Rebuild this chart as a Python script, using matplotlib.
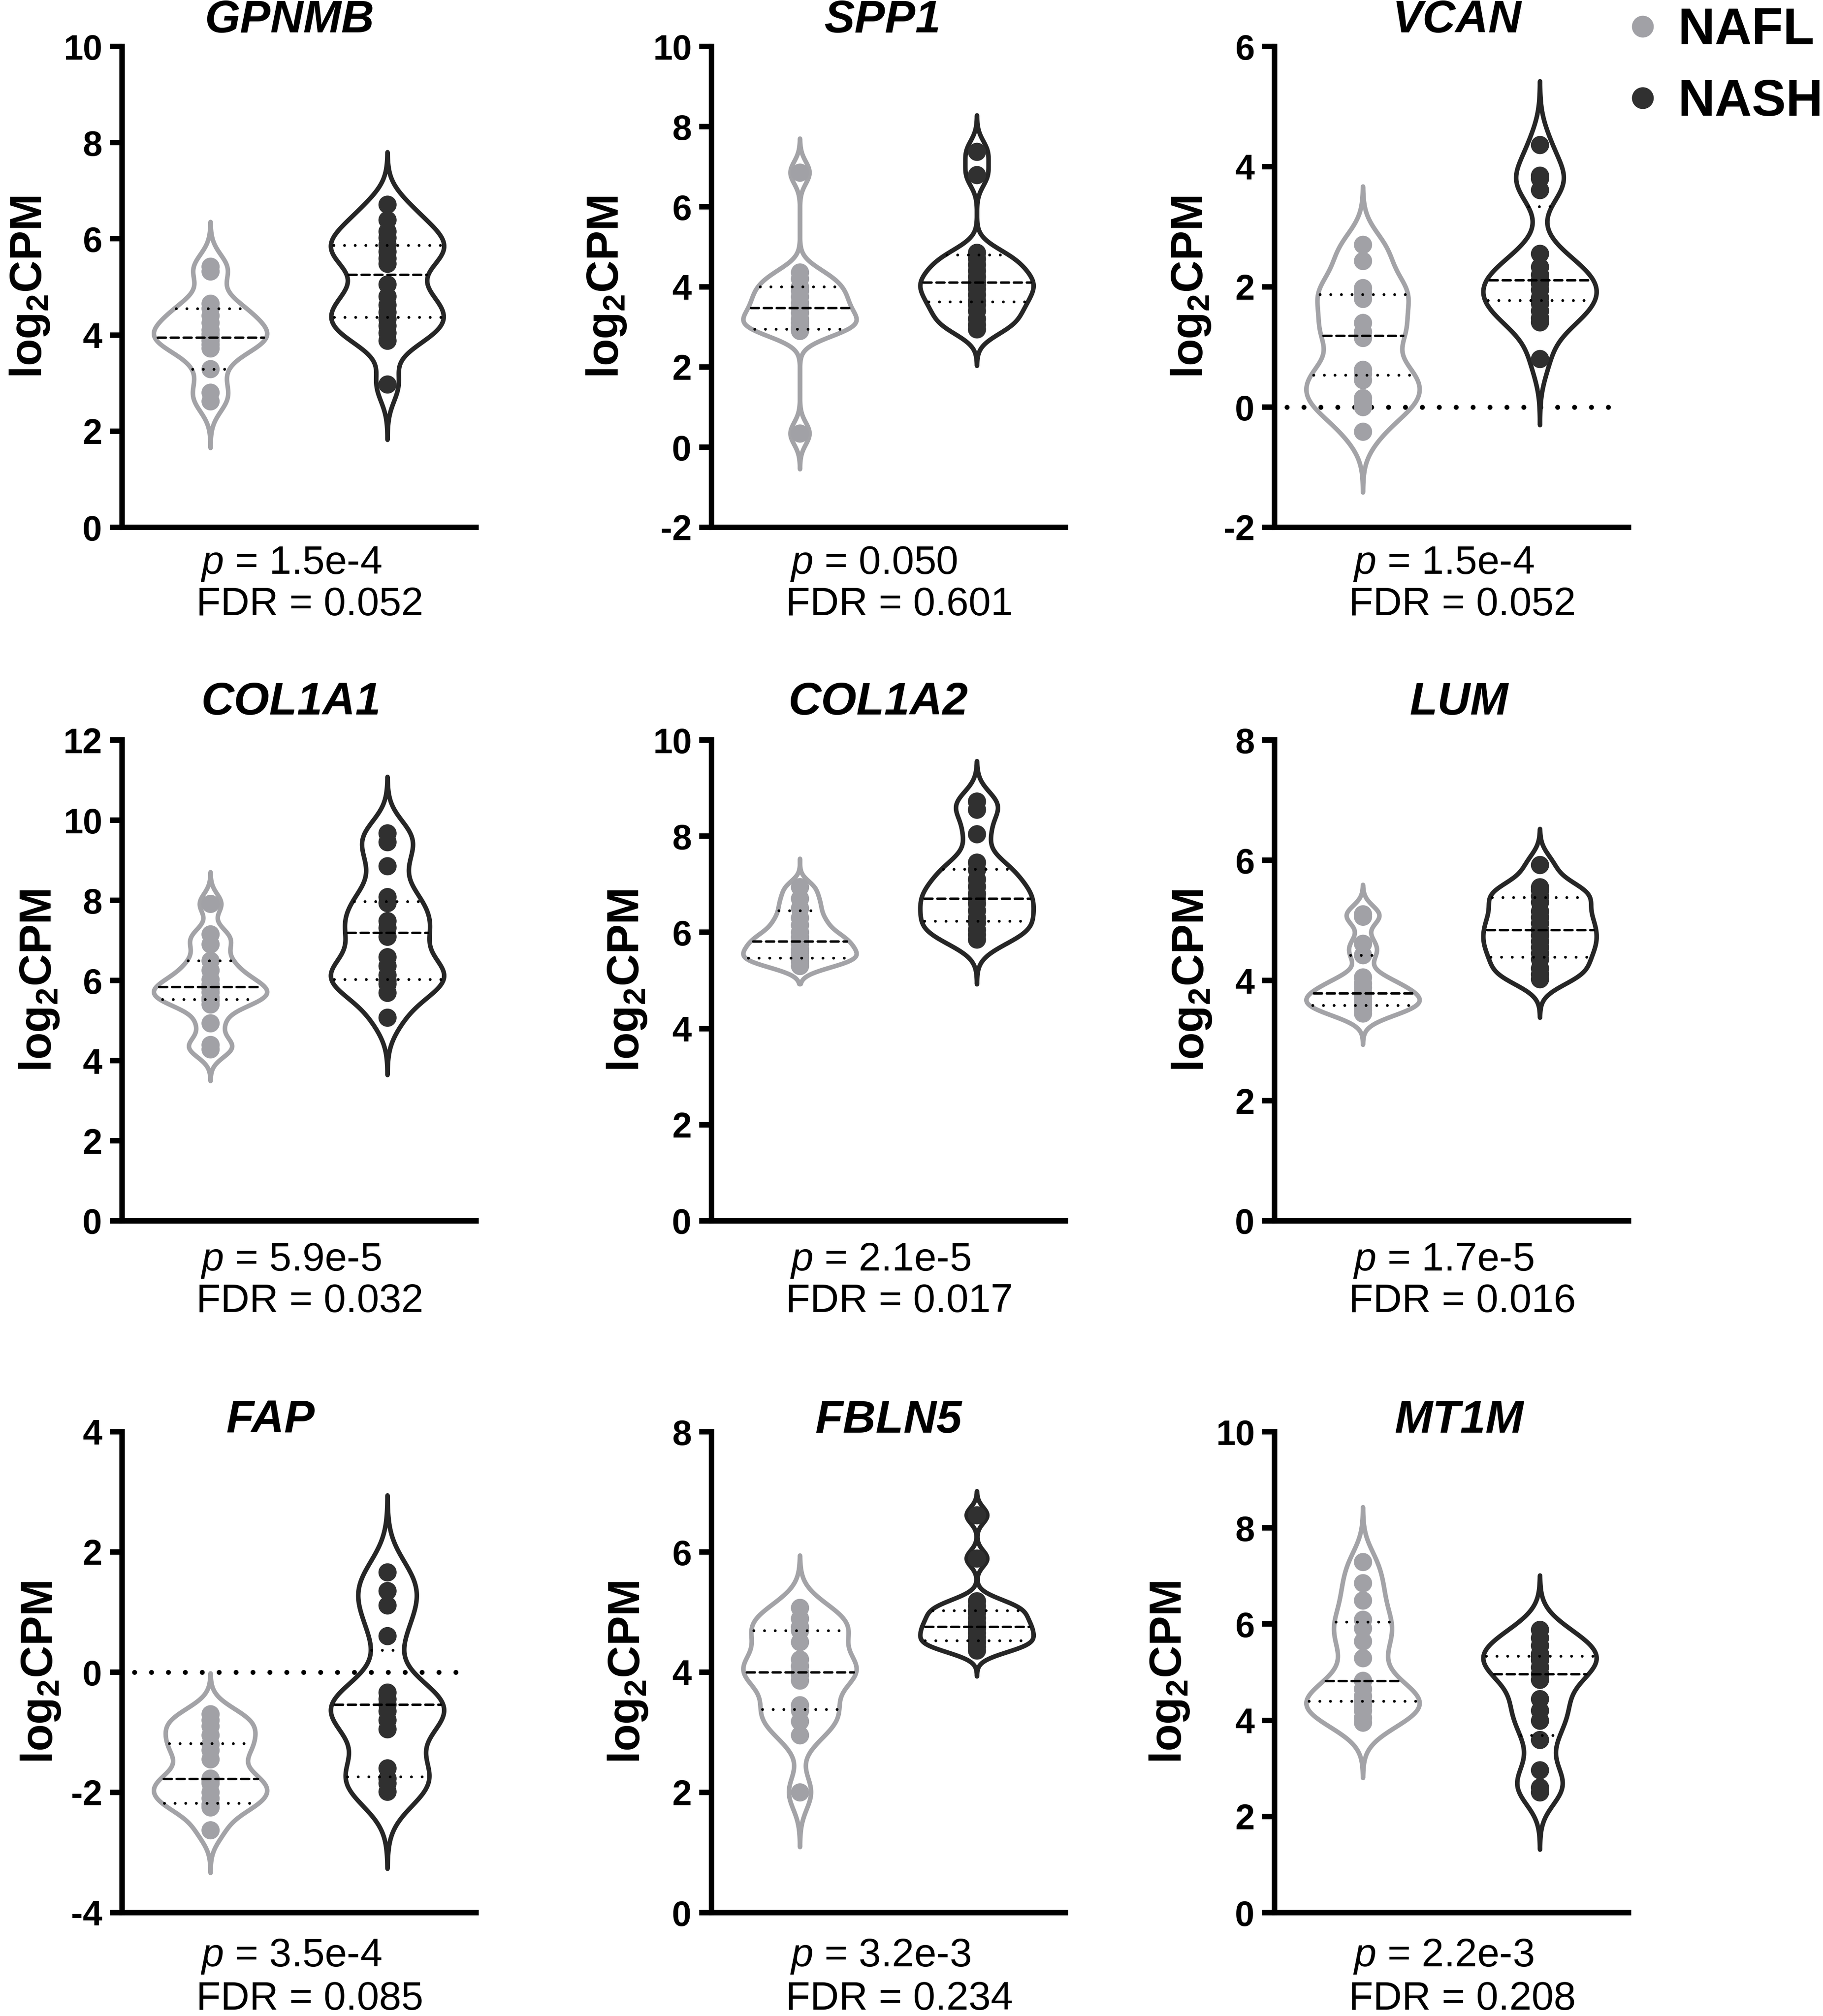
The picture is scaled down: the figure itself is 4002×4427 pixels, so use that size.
import numpy as np
import matplotlib
matplotlib.use("Agg")
import matplotlib.pyplot as plt
from matplotlib.lines import Line2D

plt.rcParams['font.family'] = ['Liberation Sans', 'DejaVu Sans']
plt.rcParams['mathtext.fontset'] = 'custom'
plt.rcParams['mathtext.rm'] = 'Liberation Sans'
plt.rcParams['mathtext.it'] = 'Liberation Sans:italic'
plt.rcParams['mathtext.bf'] = 'Liberation Sans:bold'
plt.rcParams['lines.scale_dashes'] = False
plt.rcParams['axes.unicode_minus'] = False

# ---------------- data (log2CPM) ----------------
genes = ['GPNMB', 'SPP1', 'VCAN', 'COL1A1', 'COL1A2', 'LUM', 'FAP', 'FBLN5', 'MT1M']
groups = ['NAFL', 'NASH']

nafl_GPNMB = [2.62, 2.80, 3.29, 3.72, 3.80, 3.88, 3.95, 4.02, 4.10, 4.25, 4.40, 4.55, 4.65, 5.32, 5.42]
nash_GPNMB = [2.97, 3.88, 4.04, 4.19, 4.33, 4.47, 4.62, 4.80, 5.05, 5.48, 5.59, 5.73, 5.87, 6.02, 6.15, 6.39, 6.71]
nafl_SPP1 = [0.34, 2.90, 2.95, 3.00, 3.10, 3.20, 3.35, 3.48, 3.60, 3.75, 3.90, 4.00, 4.20, 4.36, 6.85]
nash_SPP1 = [2.94, 3.05, 3.20, 3.40, 3.55, 3.65, 3.80, 3.95, 4.05, 4.12, 4.25, 4.40, 4.55, 4.70, 4.85, 6.79, 7.37]
nafl_VCAN = [-0.41, 0.00, 0.08, 0.15, 0.45, 0.55, 0.62, 1.15, 1.25, 1.40, 1.80, 1.90, 1.98, 2.43, 2.70]
nash_VCAN = [0.80, 1.41, 1.48, 1.60, 1.72, 1.82, 1.95, 2.05, 2.11, 2.20, 2.33, 2.55, 3.61, 3.80, 3.85, 4.36]
nafl_COL1A1 = [4.28, 4.39, 4.93, 5.40, 5.50, 5.57, 5.70, 5.80, 5.90, 6.02, 6.25, 6.49, 6.90, 7.15, 7.91]
nash_COL1A1 = [5.07, 5.69, 5.91, 6.00, 6.13, 6.36, 6.58, 7.09, 7.31, 7.48, 7.93, 8.08, 8.85, 9.45, 9.67]
nafl_COL1A2 = [5.30, 5.38, 5.45, 5.50, 5.58, 5.65, 5.75, 5.81, 5.90, 6.00, 6.15, 6.30, 6.50, 6.70, 6.94]
nash_COL1A2 = [5.85, 5.95, 6.05, 6.20, 6.30, 6.45, 6.60, 6.70, 6.80, 6.95, 7.10, 7.30, 7.45, 8.04, 8.55, 8.72]
nafl_LUM = [3.45, 3.50, 3.55, 3.60, 3.65, 3.70, 3.75, 3.80, 3.88, 3.95, 4.05, 4.42, 4.61, 5.06, 5.10]
nash_LUM = [4.02, 4.10, 4.20, 4.35, 4.45, 4.55, 4.65, 4.75, 4.84, 4.95, 5.05, 5.15, 5.30, 5.40, 5.50, 5.55, 5.92]
nafl_FAP = [-2.63, -2.25, -2.20, -2.10, -2.00, -1.85, -1.80, -1.77, -1.45, -1.30, -1.20, -1.05, -0.90, -0.80, -0.70]
nash_FAP = [-1.99, -1.85, -1.77, -1.60, -0.95, -0.80, -0.65, -0.54, -0.45, -0.34, 0.60, 1.11, 1.35, 1.66]
nafl_FBLN5 = [2.00, 2.95, 3.18, 3.36, 3.45, 3.86, 3.95, 4.00, 4.10, 4.21, 4.50, 4.69, 4.75, 4.89, 5.07]
nash_FBLN5 = [4.36, 4.42, 4.48, 4.52, 4.58, 4.65, 4.72, 4.76, 4.82, 4.90, 4.98, 5.02, 5.10, 5.18, 5.89, 6.61]
nafl_MT1M = [3.95, 4.05, 4.20, 4.30, 4.39, 4.50, 4.65, 4.82, 5.29, 5.64, 5.91, 6.09, 6.49, 6.85, 7.29]
nash_MT1M = [2.50, 2.60, 2.96, 3.59, 3.99, 4.20, 4.44, 4.84, 4.96, 5.10, 5.25, 5.33, 5.38, 5.55, 5.71, 5.88]

# quartile lines (Q1, median, Q3) as drawn in the figure
quart_nafl = [(3.29, 3.95, 4.55), (2.94, 3.48, 4.00), (0.53, 1.19, 1.87),
              (5.52, 5.84, 6.49), (5.46, 5.81, 6.45), (3.58, 3.79, 4.42),
              (-2.18, -1.77, -1.19), (3.38, 4.00, 4.69), (4.39, 4.82, 6.04)]
quart_nash = [(4.37, 5.26, 5.86), (3.62, 4.11, 4.80), (1.77, 2.11, 3.33),
              (6.02, 7.19, 7.97), (6.23, 6.70, 7.31), (4.39, 4.84, 5.38),
              (-1.74, -0.54, 0.36), (4.52, 4.76, 5.02), (3.68, 4.96, 5.33)]
# violin extent (low tip, high tip)
tips_nafl = [(1.65, 6.35), (-0.55, 7.70), (-1.42, 3.67), (3.49, 8.70), (4.92, 7.53),
             (2.93, 5.59), (-3.34, -0.02), (1.09, 5.94), (2.80, 8.43)]
tips_nash = [(1.82, 7.80), (2.03, 8.28), (-0.30, 5.42), (3.64, 11.08), (4.92, 9.56),
             (3.38, 6.52), (-3.27, 2.94), (3.93, 7.01), (1.31, 7.01)]

p_text = ['1.5e-4', '0.050', '1.5e-4', '5.9e-5', '2.1e-5', '1.7e-5', '3.5e-4', '3.2e-3', '2.2e-3']
fdr_text = ['0.052', '0.601', '0.052', '0.032', '0.017', '0.016', '0.085', '0.234', '0.208']
ylims = [(0, 10), (-2, 10), (-2, 6), (0, 12), (0, 10), (0, 8), (-4, 4), (0, 8), (0, 10)]
zero_line = [False, False, True, False, False, False, True, False, False]

data = {
    'GPNMB': (nafl_GPNMB, nash_GPNMB), 'SPP1': (nafl_SPP1, nash_SPP1),
    'VCAN': (nafl_VCAN, nash_VCAN), 'COL1A1': (nafl_COL1A1, nash_COL1A1),
    'COL1A2': (nafl_COL1A2, nash_COL1A2), 'LUM': (nafl_LUM, nash_LUM),
    'FAP': (nafl_FAP, nash_FAP), 'FBLN5': (nafl_FBLN5, nash_FBLN5),
    'MT1M': (nafl_MT1M, nash_MT1M),
}

# ---------------- styling / layout ----------------
W, H = 4002, 4427
DPI = 300
dot_colors = ['#a1a1a6', '#303030']
edge_colors = ['#a3a3a7', '#262626']
positions = [0.5, 1.5]
VW = 0.64  # full violin width (data units)

col_left = [268, 1562, 2798]
col_w = 777
row_top = [102, 1625, 3144]
row_h = 1056
title_y_px = [45, 1543, 3120]
title_xfrac = [0.472, 0.483, 0.515, 0.477, 0.470, 0.521, 0.419, 0.500, 0.521]
ylabel_x = [-0.200, -0.235, -0.175, -0.172, -0.178, -0.172, -0.168, -0.175, -0.235]
ptext_dy = [80, 87, 97]
fdr_dy = [170, 178, 191]


def kde_profile(values, lo, hi, n=500):
    d = np.asarray(values, dtype=float)
    h = ((d.min() - lo) + (hi - d.max())) / 6.3
    y = np.linspace(lo, hi, n)
    dens = np.exp(-0.5 * ((y[:, None] - d[None, :]) / h) ** 2).sum(axis=1)
    dens[0] = 0.0
    dens[-1] = 0.0
    return y, dens


fig = plt.figure(figsize=(W / DPI, H / DPI), dpi=DPI)

for i, gene in enumerate(genes):
    r, c = divmod(i, 3)
    left = col_left[c] / W
    bottom = 1 - (row_top[r] + row_h) / H
    ax = fig.add_axes([left, bottom, col_w / W, row_h / H])

    groups_data = data[gene]
    quarts = [quart_nafl[i], quart_nash[i]]
    tips = [tips_nafl[i], tips_nash[i]]

    if zero_line[i]:
        ax.axhline(0, xmin=0.035, xmax=0.985, color='black', lw=2.6,
                   linestyle=(0, (0.01, 8.9)), dash_capstyle='round', zorder=0.5)

    for g in range(2):
        vals = groups_data[g]
        y, dens = kde_profile(vals, *tips[g])
        stats = [dict(coords=y, vals=dens, mean=np.mean(vals), median=quarts[g][1],
                      min=tips[g][0], max=tips[g][1])]
        vp = ax.violin(stats, positions=[positions[g]], widths=VW,
                       showmeans=False, showextrema=False, showmedians=False)
        for b in vp['bodies']:
            b.set_facecolor('none')
            b.set_edgecolor(edge_colors[g])
            b.set_linewidth(2.4)
            b.set_alpha(1)
            b.set_joinstyle('round')
            b.set_zorder(1)

        ax.scatter(np.full(len(vals), positions[g]), vals, s=92, color=dot_colors[g],
                   edgecolors='none', zorder=3)

        for k, qv in enumerate(quarts[g]):
            hw = 0.5 * VW * np.interp(qv, y, dens) / dens.max() * 0.95
            if k == 1:
                ls = (0, (4.2, 2.6))
                lw = 1.3
            else:
                ls = (0, (0.01, 5.6))
                lw = 1.5
            ax.hlines(qv, positions[g] - hw, positions[g] + hw, colors='black',
                      linewidth=lw, linestyles=[ls], capstyle='round', zorder=4)

    lo, hi = ylims[i]
    ax.set_ylim(lo, hi)
    ax.set_xlim(0, 2)
    ax.set_yticks(np.arange(lo, hi + 0.1, 2))
    ax.set_yticklabels([str(int(t)) for t in np.arange(lo, hi + 0.1, 2)])
    ax.set_xticks([])
    for s in ['top', 'right']:
        ax.spines[s].set_visible(False)
    for s in ['left', 'bottom']:
        ax.spines[s].set_linewidth(2.9)
        ax.spines[s].set_capstyle('projecting')
    ax.tick_params(axis='y', length=6.5, width=2.9, labelsize=18.5, pad=4)
    for lbl in ax.get_yticklabels():
        lbl.set_fontweight('bold')

    ax.set_ylabel(r'log$_\mathbf{2}$CPM', fontsize=23.5, fontweight='bold')
    ax.yaxis.set_label_coords(ylabel_x[i], 0.5)

    ty = 1 + (row_top[r] - title_y_px[r]) / row_h
    ax.text(title_xfrac[i], ty, gene, transform=ax.transAxes, ha='center', va='center',
            fontsize=24, fontweight='bold', fontstyle='italic')

    ax.text(0.222, -ptext_dy[r] / row_h, r'$p$ = ' + p_text[i], transform=ax.transAxes,
            ha='left', va='center', fontsize=21)
    ax.text(0.21, -fdr_dy[r] / row_h, 'FDR = ' + fdr_text[i], transform=ax.transAxes,
            ha='left', va='center', fontsize=21)

handles = [Line2D([], [], linestyle='none', marker='o', markersize=11.5,
                  markerfacecolor=dot_colors[g], markeredgecolor='none') for g in range(2)]
leg = fig.legend(handles, groups, loc='upper left', bbox_to_anchor=(0.8926, 0.9965),
                 frameon=False, fontsize=27, handlelength=0.6, handletextpad=0.39,
                 labelspacing=0.45, borderpad=0, borderaxespad=0)
for t in leg.get_texts():
    t.set_fontweight('bold')

fig.savefig('out.png', dpi=DPI)
